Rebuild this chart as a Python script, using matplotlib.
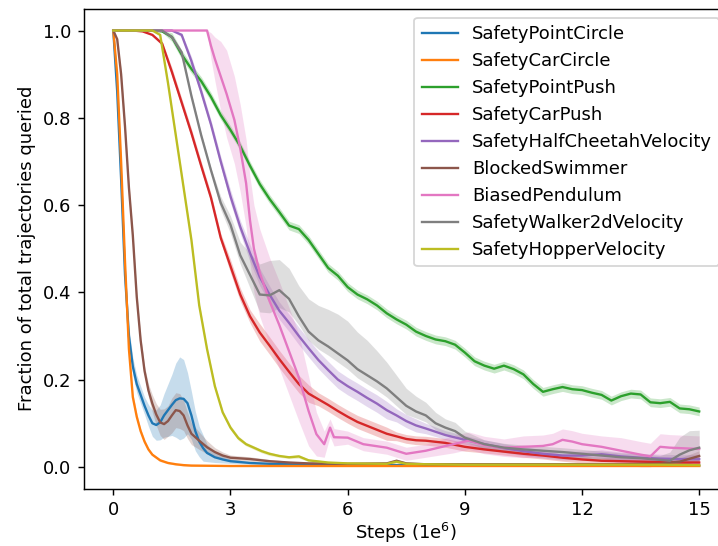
import numpy as np
import matplotlib
matplotlib.use("Agg")
import matplotlib.pyplot as plt

# SafetyPointCircle
blue_x = [0, 0.1, 0.2, 0.3, 0.4, 0.5, 0.6, 0.7, 0.8, 0.9, 1.0, 1.1, 1.2, 1.3, 1.4, 1.5, 1.6, 1.7,
          1.8, 1.9, 2.0, 2.1, 2.2, 2.3, 2.4, 2.6, 2.8, 3.0, 3.5, 4, 5, 6, 7, 8, 9, 10, 11, 12, 13, 14, 15]
blue_y = [1.0, 0.86, 0.66, 0.44, 0.30, 0.23, 0.19, 0.165, 0.14, 0.118, 0.1, 0.096, 0.102, 0.118,
          0.13, 0.142, 0.153, 0.157, 0.156, 0.146, 0.118, 0.082, 0.058, 0.043, 0.032, 0.022, 0.017,
          0.013, 0.009, 0.007, 0.005, 0.004, 0.004, 0.004, 0.003, 0.003, 0.003, 0.003, 0.003, 0.003, 0.003]
blue_sd = [0, 0, 0.01, 0.02, 0.02, 0.02, 0.02, 0.02, 0.02, 0.025, 0.03, 0.035, 0.04, 0.05, 0.06,
           0.07, 0.085, 0.095, 0.09, 0.07, 0.055, 0.045, 0.035, 0.03, 0.02, 0.012, 0.008, 0.005,
           0.003, 0.002, 0.002, 0.002, 0.002, 0.002, 0.002, 0.002, 0.002, 0.002, 0.002, 0.002, 0.002]

# SafetyCarCircle
orange_x = [0, 0.1, 0.2, 0.3, 0.4, 0.5, 0.6, 0.7, 0.8, 0.9, 1.0, 1.2, 1.4, 1.6, 1.8, 2.0, 3.0,
            4, 6, 8, 10, 12, 15]
orange_y = [1.0, 0.9, 0.7, 0.47, 0.27, 0.16, 0.115, 0.082, 0.058, 0.04, 0.028, 0.015, 0.009,
            0.006, 0.004, 0.003, 0.002, 0.002, 0.002, 0.002, 0.002, 0.002, 0.002]
orange_sd = [0, 0.01, 0.01, 0.01, 0.01, 0.01, 0.008, 0.006, 0.005, 0.004, 0.003, 0.003, 0.002,
             0.002, 0.002, 0.002, 0.001, 0.001, 0.001, 0.001, 0.001, 0.001, 0.001]

# SafetyPointPush
green_x = [0, 1.0, 1.25, 1.5, 1.75, 2.0, 2.25, 2.5, 2.75, 3.0, 3.25, 3.5, 3.75, 4.0, 4.25, 4.5,
           4.75, 5.0, 5.25, 5.5, 5.75, 6.0, 6.25, 6.5, 6.75, 7.0, 7.25, 7.5, 7.75, 8.0, 8.25, 8.5,
           8.75, 9.0, 9.25, 9.5, 9.75, 10.0, 10.25, 10.5, 10.75, 11.0, 11.25, 11.5, 11.75, 12.0,
           12.25, 12.5, 12.75, 13.0, 13.25, 13.5, 13.75, 14.0, 14.25, 14.5, 14.75, 15.0]
green_y = [1.0, 1.0, 0.998, 0.985, 0.945, 0.912, 0.884, 0.848, 0.806, 0.772, 0.735, 0.69, 0.648,
           0.614, 0.584, 0.553, 0.545, 0.52, 0.488, 0.456, 0.438, 0.412, 0.395, 0.384, 0.37, 0.352,
           0.338, 0.326, 0.31, 0.3, 0.292, 0.288, 0.28, 0.262, 0.242, 0.232, 0.225, 0.232, 0.224,
           0.212, 0.19, 0.172, 0.178, 0.183, 0.178, 0.176, 0.17, 0.165, 0.152, 0.162, 0.168, 0.166,
           0.148, 0.146, 0.149, 0.134, 0.132, 0.127]
green_sd = [0, 0, 0.002] + [0.01] * 55

# SafetyCarPush
red_x = [0, 0.5, 0.75, 1.0, 1.25, 1.5, 1.75, 2.0, 2.25, 2.5, 2.75, 3.0, 3.25, 3.5, 3.75, 4.0,
         4.25, 4.5, 4.75, 5.0, 5.25, 5.5, 5.75, 6.0, 6.25, 6.5, 6.75, 7.0, 7.25, 7.5, 7.75, 8.0,
         8.5, 9.0, 9.5, 10, 10.5, 11, 11.5, 12, 12.5, 13, 13.5, 14, 14.5, 15]
red_y = [1.0, 1.0, 0.998, 0.99, 0.97, 0.905, 0.835, 0.765, 0.69, 0.617, 0.525, 0.46, 0.395, 0.345,
         0.308, 0.278, 0.247, 0.218, 0.19, 0.168, 0.155, 0.142, 0.128, 0.115, 0.103, 0.094, 0.085,
         0.076, 0.07, 0.064, 0.061, 0.06, 0.055, 0.046, 0.04, 0.035, 0.03, 0.026, 0.021, 0.017,
         0.014, 0.013, 0.012, 0.011, 0.01, 0.01]
red_sd = [0, 0, 0, 0.002, 0.005, 0.01, 0.01, 0.01, 0.01, 0.01, 0.01, 0.015, 0.015, 0.015, 0.02,
          0.02, 0.02, 0.02, 0.02, 0.02, 0.015, 0.015, 0.015, 0.015, 0.015, 0.015, 0.015, 0.015,
          0.01, 0.01, 0.01, 0.01, 0.01, 0.01, 0.008, 0.008, 0.008, 0.008, 0.008, 0.008, 0.008,
          0.008, 0.008, 0.008, 0.008, 0.008]

# SafetyHalfCheetahVelocity
purple_x = [0, 1.5, 1.75, 2.0, 2.25, 2.5, 2.75, 3.0, 3.25, 3.5, 3.75, 4.0, 4.25, 4.5, 4.75, 5.0,
            5.25, 5.5, 5.75, 6.0, 6.25, 6.5, 6.75, 7.0, 7.25, 7.5, 7.75, 8.0, 8.5, 9.0, 9.5, 10,
            10.5, 11, 11.5, 12, 12.5, 13, 13.5, 14, 14.5, 15]
purple_y = [1.0, 1.0, 0.99, 0.93, 0.86, 0.785, 0.7, 0.62, 0.55, 0.49, 0.435, 0.395, 0.358, 0.33,
            0.3, 0.272, 0.245, 0.222, 0.2, 0.185, 0.172, 0.158, 0.145, 0.13, 0.118, 0.105, 0.095,
            0.088, 0.073, 0.062, 0.052, 0.043, 0.036, 0.03, 0.026, 0.026, 0.029, 0.024, 0.021,
            0.019, 0.018, 0.018]
purple_sd = [0, 0, 0.005, 0.01, 0.01, 0.01, 0.012, 0.015, 0.015, 0.02, 0.02, 0.02, 0.02, 0.02,
             0.02, 0.02, 0.02, 0.02, 0.02, 0.02, 0.02, 0.02, 0.02, 0.02, 0.015, 0.015, 0.015,
             0.012, 0.01, 0.01, 0.01, 0.01, 0.01, 0.01, 0.01, 0.01, 0.01, 0.01, 0.01, 0.01, 0.01, 0.01]

# BlockedSwimmer
brown_x = [0, 0.1, 0.2, 0.3, 0.4, 0.5, 0.6, 0.7, 0.8, 0.9, 1.0, 1.1, 1.2, 1.3, 1.4, 1.5, 1.6,
           1.7, 1.8, 1.9, 2.0, 2.2, 2.4, 2.6, 2.8, 3.0, 3.5, 4.0, 4.5, 5, 6, 7, 7.25, 7.5, 8, 9,
           10, 11, 12, 13, 14, 14.5, 15]
brown_y = [1.0, 0.98, 0.9, 0.78, 0.64, 0.53, 0.39, 0.29, 0.22, 0.175, 0.145, 0.12, 0.102, 0.098,
           0.105, 0.118, 0.13, 0.128, 0.118, 0.095, 0.076, 0.06, 0.045, 0.034, 0.026, 0.021,
           0.018, 0.013, 0.01, 0.008, 0.007, 0.008, 0.014, 0.008, 0.006, 0.006, 0.006, 0.006,
           0.006, 0.006, 0.007, 0.012, 0.025]
brown_sd = [0, 0, 0.01, 0.01, 0.01, 0.01, 0.01, 0.01, 0.01, 0.015, 0.02, 0.025, 0.03, 0.035,
            0.035, 0.04, 0.04, 0.04, 0.035, 0.03, 0.025, 0.02, 0.015, 0.01, 0.008, 0.006, 0.005,
            0.004, 0.003, 0.003, 0.003, 0.003, 0.004, 0.003, 0.003, 0.003, 0.003, 0.003, 0.003,
            0.003, 0.004, 0.008, 0.012]

# BiasedPendulum
pink_x = [0, 2.4, 2.5, 2.6, 2.75, 2.9, 3.0, 3.1, 3.25, 3.4, 3.5, 3.6, 3.75, 4.0, 4.25, 4.5,
          4.75, 5.0, 5.2, 5.4, 5.55, 5.65, 6.0, 6.4, 7.0, 7.5, 8.0, 8.7, 9.1, 9.5, 10, 10.5, 11,
          11.25, 11.5, 11.75, 12, 12.5, 13, 13.5, 13.75, 14, 14.25, 14.5, 15]
pink_y = [1.0, 1.0, 0.965, 0.935, 0.895, 0.855, 0.825, 0.795, 0.73, 0.65, 0.565, 0.5, 0.445,
          0.38, 0.325, 0.265, 0.205, 0.128, 0.075, 0.052, 0.09, 0.068, 0.067, 0.052, 0.044, 0.03,
          0.037, 0.052, 0.06, 0.05, 0.044, 0.046, 0.048, 0.052, 0.062, 0.058, 0.052, 0.046,
          0.037, 0.028, 0.024, 0.046, 0.044, 0.043, 0.041]
pink_sd = [0, 0, 0.03, 0.05, 0.08, 0.1, 0.1, 0.1, 0.1, 0.1, 0.1, 0.1, 0.1, 0.1, 0.1, 0.1, 0.1,
           0.08, 0.05, 0.03, 0.02, 0.02, 0.015, 0.015, 0.015, 0.015, 0.015, 0.02, 0.02, 0.02,
           0.02, 0.025, 0.025, 0.025, 0.025, 0.025, 0.025, 0.025, 0.03, 0.03, 0.03, 0.03, 0.03,
           0.03, 0.03]

# SafetyWalker2dVelocity (band is lopsided, so lower and upper spreads)
gray_x = [0, 1.25, 1.5, 1.75, 2.0, 2.25, 2.5, 2.75, 3.0, 3.25, 3.5, 3.75, 4.0, 4.25, 4.5, 4.75,
          5.0, 5.25, 5.5, 5.75, 6.0, 6.25, 6.5, 6.75, 7.0, 7.25, 7.5, 7.75, 8.0, 8.25, 8.5, 8.75,
          9.0, 9.5, 10, 10.5, 11, 11.5, 12, 12.5, 13, 13.5, 14, 14.25, 14.5, 14.75, 15]
gray_y = [1.0, 1.0, 0.985, 0.95, 0.85, 0.76, 0.68, 0.605, 0.555, 0.485, 0.44, 0.395, 0.393, 0.405,
          0.385, 0.345, 0.31, 0.29, 0.276, 0.26, 0.244, 0.224, 0.21, 0.196, 0.18, 0.16, 0.14,
          0.127, 0.118, 0.1, 0.09, 0.082, 0.067, 0.052, 0.044, 0.04, 0.037, 0.034, 0.03, 0.026,
          0.022, 0.02, 0.016, 0.014, 0.028, 0.038, 0.044]
gray_lo = [0, 0, 0.005, 0.005, 0.005, 0.005, 0.005, 0.015, 0.02, 0.02, 0.03, 0.04, 0.04, 0.04,
           0.03, 0.02, 0.02, 0.02, 0.02, 0.02, 0.02, 0.02, 0.02, 0.02, 0.02, 0.02, 0.02, 0.015,
           0.015, 0.015, 0.015, 0.01, 0.01, 0.01, 0.01, 0.01, 0.01, 0.01, 0.01, 0.01, 0.01, 0.01,
           0.01, 0.01, 0.02, 0.03, 0.03]
gray_hi = [0, 0, 0.005, 0.005, 0.005, 0.005, 0.005, 0.015, 0.02, 0.03, 0.05, 0.07, 0.08, 0.07,
           0.07, 0.07, 0.075, 0.08, 0.085, 0.09, 0.09, 0.085, 0.08, 0.07, 0.06, 0.05, 0.04, 0.035,
           0.03, 0.025, 0.02, 0.02, 0.015, 0.01, 0.01, 0.01, 0.01, 0.01, 0.01, 0.01, 0.01, 0.01,
           0.01, 0.02, 0.04, 0.045, 0.04]

# SafetyHopperVelocity
olive_x = [0, 1.0, 1.2, 1.4, 1.6, 1.8, 2.0, 2.2, 2.4, 2.6, 2.8, 3.0, 3.2, 3.4, 3.6, 3.8, 4.0,
           4.25, 4.5, 4.75, 5, 5.5, 6, 7, 7.25, 7.5, 8, 9, 10, 11, 12, 13, 14, 15]
olive_y = [1.0, 1.0, 0.99, 0.88, 0.76, 0.64, 0.52, 0.37, 0.27, 0.185, 0.125, 0.09, 0.066, 0.052,
           0.044, 0.036, 0.03, 0.025, 0.022, 0.024, 0.015, 0.01, 0.008, 0.007, 0.012, 0.007,
           0.006, 0.005, 0.005, 0.005, 0.005, 0.005, 0.005, 0.004]
olive_sd = [0, 0, 0.003, 0.005, 0.005, 0.005, 0.005, 0.005, 0.005, 0.005, 0.005, 0.005, 0.005,
            0.004, 0.004, 0.004, 0.004, 0.003, 0.003, 0.004, 0.003, 0.002, 0.002, 0.002, 0.003,
            0.002, 0.002, 0.002, 0.002, 0.002, 0.002, 0.002, 0.002, 0.002]

series = [
    ("SafetyPointCircle", blue_x, blue_y, blue_sd, blue_sd),
    ("SafetyCarCircle", orange_x, orange_y, orange_sd, orange_sd),
    ("SafetyPointPush", green_x, green_y, green_sd, green_sd),
    ("SafetyCarPush", red_x, red_y, red_sd, red_sd),
    ("SafetyHalfCheetahVelocity", purple_x, purple_y, purple_sd, purple_sd),
    ("BlockedSwimmer", brown_x, brown_y, brown_sd, brown_sd),
    ("BiasedPendulum", pink_x, pink_y, pink_sd, pink_sd),
    ("SafetyWalker2dVelocity", gray_x, gray_y, gray_lo, gray_hi),
    ("SafetyHopperVelocity", olive_x, olive_y, olive_sd, olive_sd),
]

fig = plt.figure(figsize=(718 / 130, 546 / 130), dpi=130)
# the reference is a crop, the right spine sits just past the image edge
ax = fig.add_axes([84 / 718, 1 - 488.7 / 546, 644.5 / 718, 480 / 546])

for i, (name, x, y, lo, hi) in enumerate(series):
    x = np.array(x)
    y = np.array(y)
    c = "C%d" % i
    ax.plot(x, y, color=c, lw=1.3, label=name)
    lower = np.clip(y - np.array(lo), 0, 1)
    upper = np.clip(y + np.array(hi), 0, 1)
    ax.fill_between(x, lower, upper, color=c, alpha=0.25, linewidth=0)

ax.set_xlim(-0.75, 15.75)
ax.set_ylim(-0.05, 1.05)
ax.set_xticks([0, 3, 6, 9, 12, 15])
ax.set_xlabel("Steps (1e$^6$)", labelpad=1)
ax.set_ylabel("Fraction of total trajectories queried")
ax.legend(loc="upper right")

fig.savefig("out.png", dpi=130)
